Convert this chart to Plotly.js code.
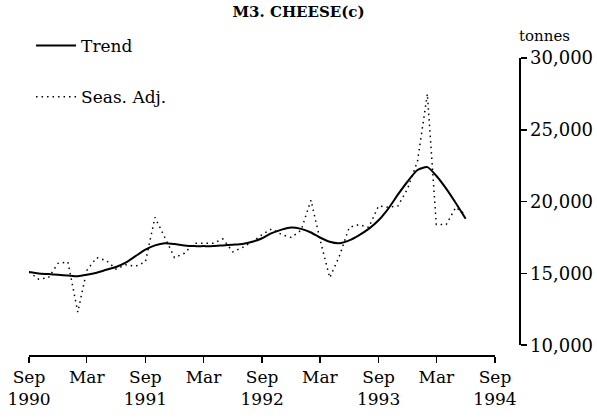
<!DOCTYPE html>
<html>
<head>
<meta charset="utf-8">
<script src="https://cdn.plot.ly/plotly-3.0.1.min.js"></script>
<style>html,body{margin:0;padding:0;background:#fff;}#chart{width:597px;height:419px;}</style>
</head>
<body>
<div id="chart"></div>
<script>
const months = ['1990-09-01','1990-10-01','1990-11-01','1990-12-01','1991-01-01','1991-02-01','1991-03-01','1991-04-01','1991-05-01','1991-06-01','1991-07-01','1991-08-01',
'1991-09-01','1991-10-01','1991-11-01','1991-12-01','1992-01-01','1992-02-01','1992-03-01','1992-04-01','1992-05-01','1992-06-01','1992-07-01','1992-08-01',
'1992-09-01','1992-10-01','1992-11-01','1992-12-01','1993-01-01','1993-02-01','1993-03-01','1993-04-01','1993-05-01','1993-06-01','1993-07-01','1993-08-01',
'1993-09-01','1993-10-01','1993-11-01','1993-12-01','1994-01-01','1994-02-01','1994-03-01','1994-04-01','1994-05-01','1994-06-01'];

const trend = [15100,15000,14950,14900,14850,14800,14900,15050,15250,15450,15750,16200,
16650,16950,17100,17050,16950,16900,16900,16900,16950,17000,17050,17200,
17450,17800,18050,18200,18100,17850,17500,17200,17100,17300,17650,18100,
18700,19500,20500,21400,22200,22400,21800,20900,19900,18800];

const seasAdj = [15100,14600,14700,15700,15800,12300,15200,16100,15900,15300,15600,15500,
15800,18900,17500,16100,16400,17100,17100,17100,17400,16500,16800,17200,
17700,18100,17700,17500,18000,20100,17400,14700,16200,18200,18400,18200,
19700,19600,19700,20900,22800,27500,18400,18400,19600,19100];

const tickDates = ['1990-09-01','1991-03-01','1991-09-01','1992-03-01','1992-09-01','1993-03-01','1993-09-01','1994-03-01','1994-09-01'];
const tickLabels = ['Sep<br>1990','Mar','Sep<br>1991','Mar','Sep<br>1992','Mar','Sep<br>1993','Mar','Sep<br>1994'];
const yTicks = [10000,15000,20000,25000,30000];

const serif = 'DejaVu Serif, Liberation Serif, serif';

const traces = [
  {x: months, y: trend, type: 'scatter', mode: 'lines', name: 'Trend', legendgroup: 'a',
   line: {color: '#000', width: 2, shape: 'spline', smoothing: 0.6}},
  {x: months, y: seasAdj, type: 'scatter', mode: 'lines', name: 'Seas. Adj.', legendgroup: 'b',
   line: {color: '#000', width: 1.5, dash: '1.5px,4px'}}
];

const layout = {
  width: 597, height: 419,
  margin: {l: 29, r: 78, t: 58, b: 64, autoexpand: false},
  paper_bgcolor: '#fff', plot_bgcolor: '#fff',
  font: {family: serif, color: '#000', size: 17},
  separators: '.,',
  title: {text: '<b>M3. CHEESE(c)</b>', x: 0.5, xanchor: 'center', y: 0.985, yanchor: 'top',
          font: {family: serif, size: 15, color: '#000'}},
  showlegend: true,
  legend: {xref: 'container', yref: 'container', x: 0.052, y: 0.933, xanchor: 'left', yanchor: 'top',
           font: {family: serif, size: 17, color: '#000'}, tracegroupgap: 26, bgcolor: 'rgba(0,0,0,0)',
           itemwidth: 40},
  xaxis: {type: 'date', range: ['1990-09-01','1994-09-01'], domain: [0, 0.951],
          anchor: 'free', position: 0,
          tickvals: tickDates, ticktext: tickLabels, ticks: 'outside', ticklen: 6, tickwidth: 1.5,
          tickcolor: '#000', showline: true, linecolor: '#000', linewidth: 1.5, showgrid: false,
          zeroline: false, tickfont: {family: serif, size: 17, color: '#000'}},
  yaxis: {range: [10000, 30000], domain: [0.033, 1], side: 'right', anchor: 'free', position: 1,
          tickvals: yTicks, tickformat: ',d', ticks: 'outside', ticklen: 6, tickwidth: 1.5, tickcolor: '#000',
          showline: true, linecolor: '#000', linewidth: 1.5, showgrid: false, zeroline: false,
          tickfont: {family: serif, size: 18, color: '#000'}},
  annotations: [
    {text: 'tonnes', xref: 'paper', yref: 'paper', x: 1, y: 1, xanchor: 'left', yanchor: 'bottom',
     xshift: -2, yshift: 11, showarrow: false, font: {family: serif, size: 15, color: '#000'}}
  ]
};

Plotly.newPlot('chart', traces, layout, {staticPlot: true, displayModeBar: false});
</script>
</body>
</html>
